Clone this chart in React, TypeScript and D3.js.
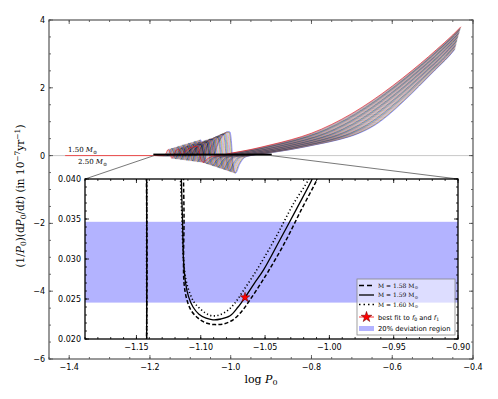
import React from 'react'
import * as d3 from 'd3'

const WIDTH = 498
const HEIGHT = 399
const OUTER = { left: 49, right: 473, top: 20, bottom: 359 }
const INSET = { left: 85, right: 458, top: 179, bottom: 339 }

// lowest-mass evolutionary track (1.50 Msun): log P0 vs (1/P0)(dP0/dt) in 1e-7 /yr
const baseLogP = [
  -1.41, -1.19, -1.165, -1.16, -1.155, -1.15, -1.146, -1.141, -1.136, -1.13, -1.125, -1.12,
  -1.114, -1.106, -1.095, -1.088, -1.082, -1.079, -1.074, -1.068, -1.058, -1.045, -1.03,
  -1.0, -0.95, -0.9, -0.85, -0.8, -0.75, -0.7, -0.65, -0.6, -0.55, -0.51, -0.49, -0.47, -0.45, -0.43,
]
const baseRate = [
  0, 0, 0, 0.07, 0.18, 0.09, -0.08, 0, 0.14, 0.19, 0.11, 0.02,
  0.1, 0.18, 0.25, 0.27, 0.27, 0.2, -0.1, -0.2, -0.1, -0.02, 0,
  0.07, 0.18, 0.32, 0.47, 0.66, 0.92, 1.24, 1.62, 2.05, 2.52, 2.92, 3.13, 3.34, 3.56, 3.8,
]
// horizontal width of the whole 1.50-2.50 Msun family at each point of the track
const bandSpread = [
  0.08, 0.08, 0.08, 0.08, 0.08, 0.08, 0.08, 0.08, 0.08, 0.08, 0.08, 0.08,
  0.08, 0.08, 0.08, 0.08, 0.08, 0.08, 0.08, 0.08, 0.08, 0.08, 0.08,
  0.09, 0.1, 0.11, 0.118, 0.118, 0.11, 0.095, 0.08, 0.067, 0.056, 0.05, 0.045, 0.04, 0.035, 0.03,
]
// blue-loop wiggles grow with mass below this period
const WIGGLE_LIMIT = -1.03

const trackMass = [
  1.5, 1.525, 1.55, 1.575, 1.6, 1.625, 1.65, 1.675, 1.7, 1.725, 1.75, 1.775, 1.8, 1.825,
  1.85, 1.875, 1.9, 1.925, 1.95, 1.975, 2.0, 2.025, 2.05, 2.075, 2.1, 2.125, 2.15, 2.175,
  2.2, 2.225, 2.25, 2.275, 2.3, 2.325, 2.35, 2.375, 2.4, 2.425, 2.45, 2.475, 2.5,
]
// position of each track inside the family (0 = 1.50, 1 = 2.50)
const trackOffset = [
  0, 0.025, 0.05, 0.075, 0.1, 0.125, 0.15, 0.175, 0.2, 0.225, 0.25, 0.275, 0.3, 0.325,
  0.35, 0.375, 0.4, 0.425, 0.45, 0.475, 0.5, 0.525, 0.55, 0.575, 0.6, 0.625, 0.65, 0.675,
  0.7, 0.725, 0.75, 0.775, 0.8, 0.825, 0.85, 0.875, 0.9, 0.925, 0.95, 0.975, 1.0,
]
const trackGain = [
  1.0, 1.04, 1.08, 1.12, 1.16, 1.2, 1.24, 1.28, 1.32, 1.36, 1.4, 1.44, 1.48, 1.52, 1.56, 1.6,
  1.64, 1.68, 1.72, 1.76, 1.8, 1.84, 1.88, 1.92, 1.96, 2.0, 2.04, 2.08, 2.12, 2.16, 2.2, 2.24,
  2.28, 2.32, 2.36, 2.4, 2.44, 2.48, 2.52, 2.56, 2.6,
]
const trackEnd = [
  -0.43, -0.4304, -0.4308, -0.4311, -0.4315, -0.4319, -0.4323, -0.4326, -0.433, -0.4334, -0.4338,
  -0.4341, -0.4345, -0.4349, -0.4353, -0.4356, -0.436, -0.4364, -0.4368, -0.4371, -0.4375, -0.4379,
  -0.4383, -0.4386, -0.439, -0.4394, -0.4398, -0.4401, -0.4405, -0.4409, -0.4413, -0.4416, -0.442,
  -0.4424, -0.4428, -0.4431, -0.4435, -0.4439, -0.4443, -0.4446, -0.445,
]
const trackColors = ['#ff0000', '#00bfbf', '#bf00bf', '#bfbf00', '#000000', '#0000ff', '#008000']

// zoomed region: three models
const m158LogP = [-1.1134, -1.1134, -1.113, -1.1134, -1.113, -1.1111, -1.1076, -1.1021, -1.0959, -1.0889, -1.0819, -1.0749, -1.0679, -1.0617, -1.0547, -1.0477, -1.0345, -1.022, -1.0098, -1.0088]
const m158Rate = [0.0411, 0.04, 0.0349, 0.0299, 0.027, 0.0251, 0.0236, 0.0226, 0.022, 0.0218, 0.0219, 0.0224, 0.0235, 0.0249, 0.0266, 0.0284, 0.0321, 0.0361, 0.0399, 0.0404]
const m159LogP = [-1.1151, -1.1151, -1.1142, -1.1134, -1.1118, -1.1095, -1.106, -1.1014, -1.0959, -1.0905, -1.0843, -1.0772, -1.071, -1.0656, -1.0586, -1.0513, -1.0384, -1.0254, -1.0137, -1.0127]
const m159Rate = [0.0411, 0.04, 0.0349, 0.0299, 0.027, 0.0253, 0.024, 0.0231, 0.0226, 0.0224, 0.0225, 0.0229, 0.024, 0.0252, 0.0269, 0.0286, 0.0324, 0.0363, 0.0399, 0.0404]
const m160LogP = [-1.1157, -1.1157, -1.1146, -1.1134, -1.1115, -1.1087, -1.1052, -1.1006, -1.0959, -1.0912, -1.0858, -1.0796, -1.0734, -1.0679, -1.0609, -1.0539, -1.0407, -1.0283, -1.0164, -1.0155]
const m160Rate = [0.0411, 0.04, 0.0349, 0.0299, 0.0274, 0.0258, 0.0246, 0.0238, 0.0232, 0.0229, 0.023, 0.0235, 0.0245, 0.0258, 0.0275, 0.0293, 0.033, 0.0368, 0.0399, 0.0404]
const steepLogP158 = [-1.1423, -1.1418, -1.1422]
const steepLogP159 = [-1.1421, -1.142, -1.1421]
const steepLogP160 = [-1.1419, -1.1421, -1.1419]
const steepRate = [0.041, 0.03, 0.019]

const bestFit = [-1.0656, 0.0252]
const deviationBand = [0.02455, 0.03465]

const outerXTicks = [-1.4, -1.2, -1.0, -0.8, -0.6, -0.4]
const outerYTicks = [-6, -4, -2, 0, 2, 4]
const insetXTicks = [-1.15, -1.1, -1.05, -1.0, -0.95, -0.9]
const insetYTicks = [0.02, 0.025, 0.03, 0.035, 0.04]

const outerX = d3.scaleLinear().domain([-1.45, -0.4]).range([OUTER.left, OUTER.right])
const outerY = d3.scaleLinear().domain([-6, 4]).range([OUTER.bottom, OUTER.top])
const insetX = d3.scaleLinear().domain([-1.19, -0.9]).range([INSET.left, INSET.right])
const insetY = d3.scaleLinear().domain([0.02, 0.04]).range([INSET.bottom, INSET.top])

const fmt = (v: number, d: number) => v.toFixed(d).replace('-', '\u2212')

function trackPoints(i: number) {
  const o = trackOffset[i]
  const g = trackGain[i]
  const end = trackEnd[i]
  const pts: [number, number][] = []
  // only the 1.50 Msun track is drawn along the flat early part
  for (let k = i === 0 ? 0 : 1; k < baseLogP.length; k++) {
    const x = baseLogP[k] + o * bandSpread[k]
    const y = baseLogP[k] < WIGGLE_LIMIT ? baseRate[k] * g : baseRate[k]
    if (x <= end) {
      pts.push([x, y])
      continue
    }
    // clip the last segment at the end of the track
    const [px, py] = pts[pts.length - 1]
    const t = (end - px) / (x - px)
    pts.push([end, py + t * (y - py)])
    break
  }
  return pts
}

const outerLine = d3.line<[number, number]>()
  .x(d => outerX(d[0]))
  .y(d => outerY(d[1]))
  .curve(d3.curveMonotoneX)

const insetLine = d3.line<[number, number]>()
  .x(d => insetX(d[0]))
  .y(d => insetY(d[1]))
  .curve(d3.curveCatmullRom.alpha(0.5))

const zip = (xs: number[], ys: number[]) => xs.map((x, i) => [x, ys[i]] as [number, number])

const models = [
  { label: '1.58', u: zip(m158LogP, m158Rate), steep: zip(steepLogP158, steepRate), dash: '4 2.2', width: 1.5 },
  { label: '1.59', u: zip(m159LogP, m159Rate), steep: zip(steepLogP159, steepRate), dash: null, width: 1.3 },
  { label: '1.60', u: zip(m160LogP, m160Rate), steep: zip(steepLogP160, steepRate), dash: '1.2 2.4', width: 1.6 },
]

function TickMarks({ box, xs, ys, len }: any) {
  const lines: JSX.Element[] = []
  xs.forEach((x: number, i: number) => {
    lines.push(<line key={'b' + i} x1={x} x2={x} y1={box.bottom} y2={box.bottom - len} />)
    lines.push(<line key={'t' + i} x1={x} x2={x} y1={box.top} y2={box.top + len} />)
  })
  ys.forEach((y: number, i: number) => {
    lines.push(<line key={'l' + i} x1={box.left} x2={box.left + len} y1={y} y2={y} />)
    lines.push(<line key={'r' + i} x1={box.right} x2={box.right - len} y1={y} y2={y} />)
  })
  return <g>{lines}</g>
}

export default function App() {
  const star = d3.symbol(d3.symbolStar, 30)()
  const legendStar = d3.symbol(d3.symbolStar, 36)()
  const outerMinorX = d3.range(-1.45, -0.399, 0.05).map(v => outerX(v))
  const outerMinorY = d3.range(-6, 4.01, 0.5).map(v => outerY(v))
  const insetMinorX = d3.range(-1.19, -0.899, 0.01).map(v => insetX(v))
  const insetMinorY = d3.range(0.02, 0.0401, 0.001).map(v => insetY(v))
  const tickFont = { fontFamily: 'DejaVu Sans', fontSize: 8, fill: '#000' }
  const legendRows = [285.5, 295, 304.5, 317, 328.5]
  // heaviest track first so the 1.50 Msun track ends up on top
  const drawOrder = trackMass.map((_, i) => i).reverse()

  return (
    <svg width={WIDTH} height={HEIGHT} style={{ position: 'absolute', left: 0, top: 0, background: '#fff' }}>
      <defs>
        <clipPath id="outerClip">
          <rect x={OUTER.left} y={OUTER.top} width={OUTER.right - OUTER.left} height={OUTER.bottom - OUTER.top} />
        </clipPath>
        <clipPath id="insetClip">
          <rect x={INSET.left} y={INSET.top} width={INSET.right - INSET.left} height={INSET.bottom - INSET.top} />
        </clipPath>
      </defs>

      {/* main axes */}
      <line x1={OUTER.left} x2={OUTER.right} y1={outerY(0)} y2={outerY(0)} stroke="#c8c8c8" strokeWidth={1} />
      <g clipPath="url(#outerClip)" fill="none">
        {drawOrder.map(i => (
          <path key={trackMass[i]} d={outerLine(trackPoints(i)) || ''} stroke={trackColors[i % trackColors.length]}
            strokeWidth={i === 0 ? 0.7 : 0.5} strokeOpacity={i === 0 ? 0.9 : 0.75} />
        ))}
      </g>
      <rect x={outerX(-1.19)} y={outerY(0.04)} width={outerX(-0.9) - outerX(-1.19)} height={outerY(0.02) - outerY(0.04)}
        fill="none" stroke="#000" strokeWidth={1.3} />
      <line x1={outerX(-1.19)} y1={outerY(0)} x2={INSET.left} y2={INSET.top} stroke="#555" strokeWidth={0.8} />
      <line x1={outerX(-0.9)} y1={outerY(0)} x2={INSET.right} y2={INSET.top} stroke="#555" strokeWidth={0.8} />

      <text x={68} y={152} fontFamily="DejaVu Serif" fontSize={7}>
        1.50 <tspan fontStyle="italic">M</tspan><tspan fontSize={5} dy={1.5}>⊙</tspan>
      </text>
      <text x={78} y={164} fontFamily="DejaVu Serif" fontSize={7}>
        2.50 <tspan fontStyle="italic">M</tspan><tspan fontSize={5} dy={1.5}>⊙</tspan>
      </text>

      <g stroke="#444" strokeWidth={0.8}>
        <TickMarks box={OUTER} xs={outerXTicks.map(outerX)} ys={outerYTicks.map(outerY)} len={4} />
        <TickMarks box={OUTER} xs={outerMinorX} ys={outerMinorY} len={2} />
      </g>
      <rect x={OUTER.left} y={OUTER.top} width={OUTER.right - OUTER.left} height={OUTER.bottom - OUTER.top}
        fill="none" stroke="#555" strokeWidth={1.2} />
      {outerXTicks.map(v => (
        <text key={v} x={outerX(v)} y={OUTER.bottom + 11} textAnchor="middle" {...tickFont}>{fmt(v, 1)}</text>
      ))}
      {outerYTicks.map(v => (
        <text key={v} x={OUTER.left - 4} y={outerY(v) + 3} textAnchor="end" {...tickFont}>{fmt(v, 0)}</text>
      ))}

      <text x={(OUTER.left + OUTER.right) / 2} y={383} textAnchor="middle" fontFamily="DejaVu Serif" fontSize={11}>
        log  <tspan fontStyle="italic">P</tspan><tspan fontSize={8} dy={2}>0</tspan>
      </text>
      <text transform="translate(24,196) rotate(-90)" textAnchor="middle" fontFamily="DejaVu Serif" fontSize={10.5}>
        (1/<tspan fontStyle="italic">P</tspan><tspan fontSize={7.5} dy={2}>0</tspan>
        <tspan dy={-2}>)(d</tspan><tspan fontStyle="italic">P</tspan><tspan fontSize={7.5} dy={2}>0</tspan>
        <tspan dy={-2}>/d</tspan><tspan fontStyle="italic">t</tspan>) (in 10<tspan fontSize={7.5} dy={-4}>−7</tspan>
        <tspan dy={4}>yr</tspan><tspan fontSize={7.5} dy={-4}>−1</tspan><tspan dy={4}>)</tspan>
      </text>

      {/* zoomed inset */}
      <rect x={INSET.left} y={INSET.top} width={INSET.right - INSET.left} height={INSET.bottom - INSET.top} fill="#fff" />
      <g clipPath="url(#insetClip)">
        <rect x={INSET.left} y={insetY(deviationBand[1])} width={INSET.right - INSET.left}
          height={insetY(deviationBand[0]) - insetY(deviationBand[1])} fill="#b3b3ff" />
        {models.map(m => (
          <g key={m.label} fill="none" stroke="#000" strokeWidth={m.width} strokeDasharray={m.dash || undefined}>
            <path d={insetLine(m.steep) || ''} />
            <path d={insetLine(m.u) || ''} />
          </g>
        ))}
        <path d={star || ''} transform={`translate(${insetX(bestFit[0])},${insetY(bestFit[1])})`} fill="#ff0000" stroke="#600" strokeWidth={0.5} />
      </g>

      <g stroke="#000" strokeWidth={0.8}>
        <TickMarks box={INSET} xs={insetXTicks.map(insetX)} ys={insetYTicks.map(insetY)} len={4} />
        <TickMarks box={INSET} xs={insetMinorX} ys={insetMinorY} len={2} />
      </g>

      {/* legend */}
      <rect x={357} y={279} width={98} height={56} fill="#fff" fillOpacity={0.55} stroke="#888" strokeWidth={0.8} />
      {models.map((m, i) => (
        <g key={m.label}>
          <line x1={359} x2={374} y1={legendRows[i]} y2={legendRows[i]} stroke="#000" strokeWidth={m.width}
            strokeDasharray={m.dash ? (i === 0 ? '5 3' : '1.5 3') : undefined} />
          <text x={378} y={legendRows[i] + 2} fontFamily="DejaVu Serif" fontSize={6}>
            M = {m.label} M<tspan fontSize={4.5} dy={1.5}>⊙</tspan>
          </text>
        </g>
      ))}
      <line x1={359} x2={374} y1={legendRows[3]} y2={legendRows[3]} stroke="#ff0000" strokeWidth={0.8} />
      <path d={legendStar || ''} transform={`translate(366.5,${legendRows[3]})`} fill="#ff0000" stroke="#600" strokeWidth={0.5} />
      <text x={378} y={legendRows[3] + 2.5} fontFamily="DejaVu Sans" fontSize={6.6}>
        best fit to <tspan fontStyle="italic">f</tspan><tspan fontSize={4.6} dy={1.5}>0</tspan>
        <tspan dy={-1.5}> and </tspan><tspan fontStyle="italic">f</tspan><tspan fontSize={4.6} dy={1.5}>1</tspan>
      </text>
      <rect x={359} y={legendRows[4] - 2.5} width={15} height={5} fill="#b3b3ff" />
      <text x={378} y={legendRows[4] + 2.5} fontFamily="DejaVu Sans" fontSize={6.8}>20% deviation region</text>

      <rect x={INSET.left} y={INSET.top} width={INSET.right - INSET.left} height={INSET.bottom - INSET.top}
        fill="none" stroke="#000" strokeWidth={1.3} />
      {insetXTicks.map(v => (
        <text key={v} x={insetX(v)} y={INSET.bottom + 11} textAnchor="middle" {...tickFont}>{fmt(v, 2)}</text>
      ))}
      {insetYTicks.map(v => (
        <text key={v} x={INSET.left - 4} y={insetY(v) + 3} textAnchor="end" {...tickFont}>{fmt(v, 3)}</text>
      ))}
    </svg>
  )
}
